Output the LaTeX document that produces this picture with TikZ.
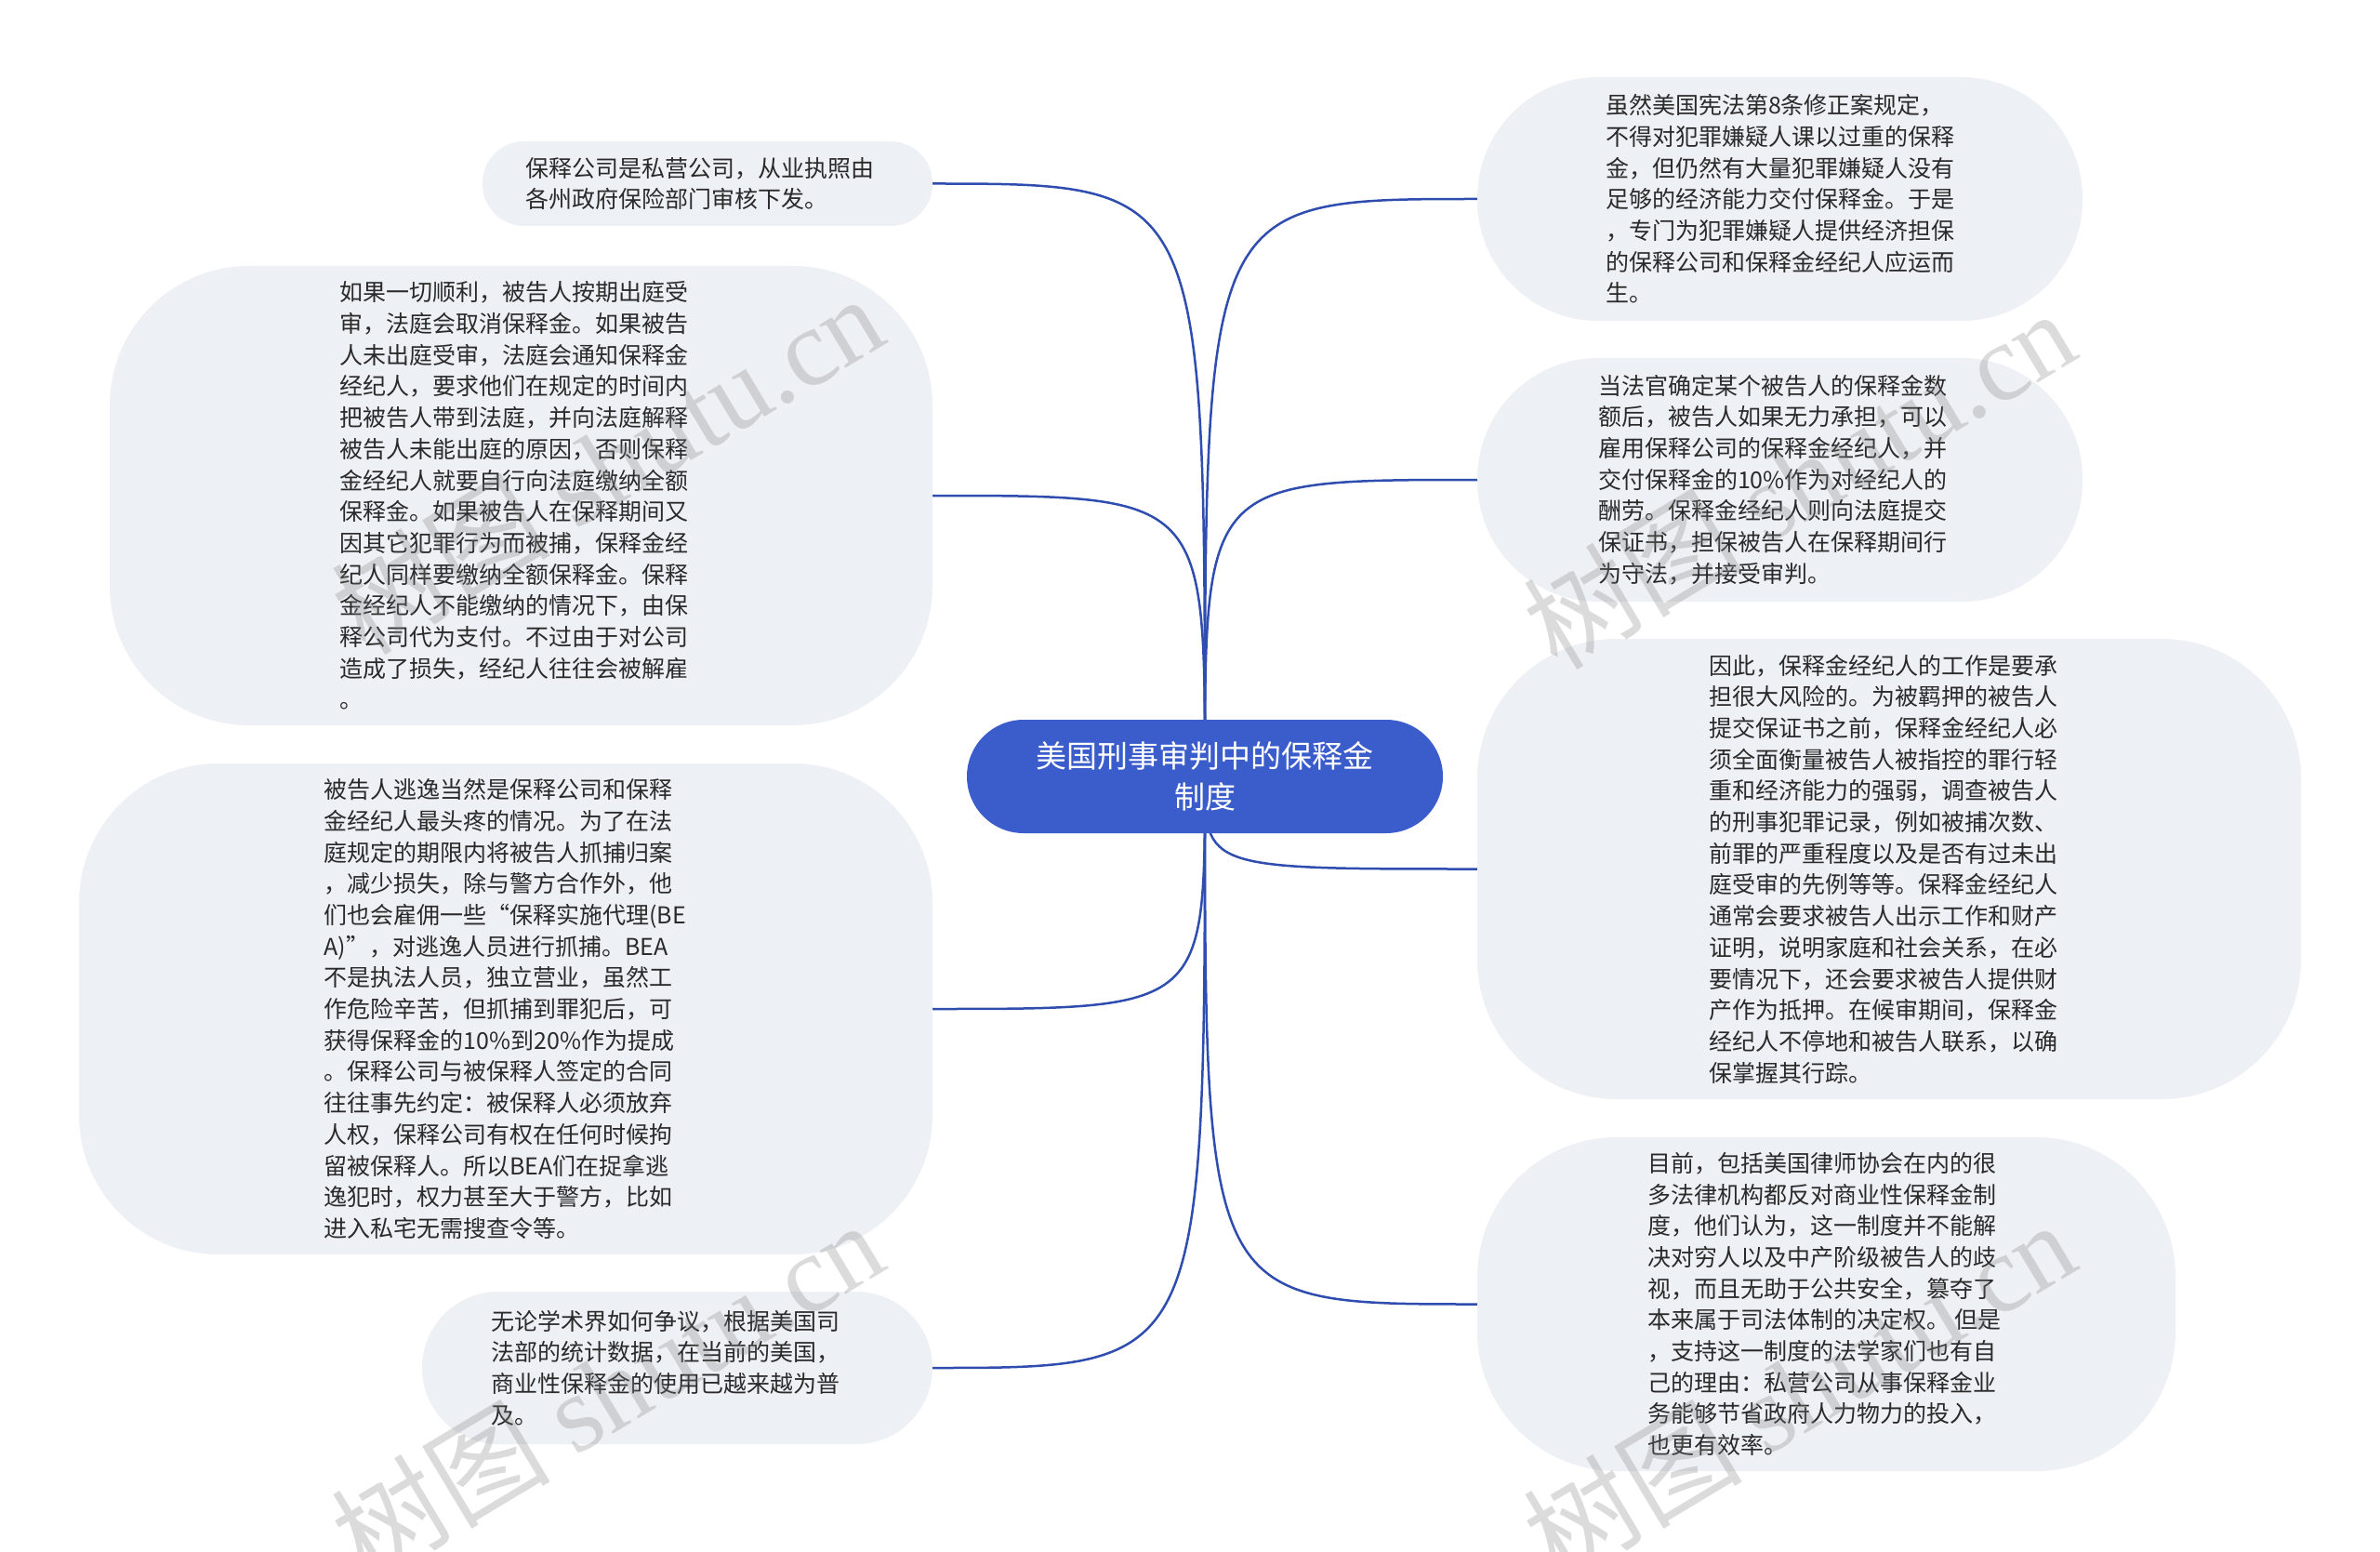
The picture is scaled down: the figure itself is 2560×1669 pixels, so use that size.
\documentclass[tikz,border=0pt]{standalone}
\usepackage{fontspec}
\setmainfont{Noto Sans CJK SC}
\newfontfamily\wmserif{Liberation Serif}
\usetikzlibrary{backgrounds}
\definecolor{rootblue}{HTML}{3B5DCB}
\definecolor{linkblue}{HTML}{2F4DAF}
\definecolor{leafgray}{HTML}{EDF0F4}
\definecolor{txtc}{HTML}{2A2A2A}
\newcommand{\rpad}[1]{\hspace*{#1}}
\tikzset{
  leaf/.style={fill=leafgray, draw=none, text=txtc, align=left, inner sep=0pt,
    font=\fontsize{25}{33.7}\selectfont},
  rootnode/.style={fill=rootblue, draw=none, text=white, align=center, inner sep=0pt,
    font=\fontsize{33}{44}\selectfont, minimum width=512pt, minimum height=122pt,
    rounded corners=61pt},
  link/.style={draw=linkblue, line width=2.5pt},
  wmark/.style={text=gray, text opacity=0.28, rotate=31, inner sep=0pt,
    font=\fontsize{118}{118}\selectfont}
}
\begin{document}
\begin{tikzpicture}[x=1pt,y=-1pt]
\useasboundingbox (0,0) rectangle (2560,1669);

\node[rootnode] (root) at (1296,835) {美国刑事审判中的保释金\\制度};

\node[leaf, minimum width=484pt, minimum height=91pt, rounded corners=45pt] (n1) at (761,197.5)
{保释公司是私营公司，从业执照由\rpad{17pt}\\各州政府保险部门审核下发。};

\node[leaf, minimum width=885pt, minimum height=494pt, rounded corners=150pt] (n2) at (560.5,533)
{如果一切顺利，被告人按期出庭受\rpad{16pt}\\审，法庭会取消保释金。如果被告\\人未出庭受审，法庭会通知保释金\\经纪人，要求他们在规定的时间内\\把被告人带到法庭，并向法庭解释\\被告人未能出庭的原因，否则保释\\金经纪人就要自行向法庭缴纳全额\\保释金。如果被告人在保释期间又\\因其它犯罪行为而被捕，保释金经\\纪人同样要缴纳全额保释金。保释\\金经纪人不能缴纳的情况下，由保\\释公司代为支付。不过由于对公司\\造成了损失，经纪人往往会被解雇\\。};

\node[leaf, minimum width=918pt, minimum height=528pt, rounded corners=150pt] (n3) at (544,1085)
{被告人逃逸当然是保释公司和保释\rpad{16pt}\\金经纪人最头疼的情况。为了在法\\庭规定的期限内将被告人抓捕归案\\，减少损失，除与警方合作外，他\\们也会雇佣一些“保释实施代理(BE\\A)”，对逃逸人员进行抓捕。BEA\\不是执法人员，独立营业，虽然工\\作危险辛苦，但抓捕到罪犯后，可\\获得保释金的10\%到20\%作为提成\\。保释公司与被保释人签定的合同\\往往事先约定：被保释人必须放弃\\人权，保释公司有权在任何时候拘\\留被保释人。所以BEA们在捉拿逃\\逸犯时，权力甚至大于警方，比如\\进入私宅无需搜查令等。};

\node[leaf, minimum width=549pt, minimum height=164pt, rounded corners=82pt] (n4) at (728.5,1471)
{无论学术界如何争议，根据美国司\rpad{26pt}\\法部的统计数据，在当前的美国，\\商业性保释金的使用已越来越为普\\及。};

\node[leaf, minimum width=651pt, minimum height=262pt, rounded corners=130pt] (n5) at (1914.5,214)
{虽然美国宪法第8条修正案规定，\\不得对犯罪嫌疑人课以过重的保释\rpad{16pt}\\金，但仍然有大量犯罪嫌疑人没有\\足够的经济能力交付保释金。于是\\，专门为犯罪嫌疑人提供经济担保\\的保释公司和保释金经纪人应运而\\生。};

\node[leaf, minimum width=651pt, minimum height=262pt, rounded corners=130pt] (n6) at (1914.5,516)
{当法官确定某个被告人的保释金数\rpad{16pt}\\额后，被告人如果无力承担，可以\\雇用保释公司的保释金经纪人，并\\交付保释金的10\%作为对经纪人的\\酬劳。保释金经纪人则向法庭提交\\保证书，担保被告人在保释期间行\\为守法，并接受审判。};

\node[leaf, minimum width=886pt, minimum height=495pt, rounded corners=150pt] (n7) at (2032,934.5)
{因此，保释金经纪人的工作是要承\rpad{13pt}\\担很大风险的。为被羁押的被告人\\提交保证书之前，保释金经纪人必\\须全面衡量被告人被指控的罪行轻\\重和经济能力的强弱，调查被告人\\的刑事犯罪记录，例如被捕次数、\\前罪的严重程度以及是否有过未出\\庭受审的先例等等。保释金经纪人\\通常会要求被告人出示工作和财产\\证明，说明家庭和社会关系，在必\\要情况下，还会要求被告人提供财\\产作为抵押。在候审期间，保释金\\经纪人不停地和被告人联系，以确\\保掌握其行踪。};

\node[leaf, minimum width=751pt, minimum height=359pt, rounded corners=150pt] (n8) at (1964.5,1402.5)
{目前，包括美国律师协会在内的很\rpad{10pt}\\多法律机构都反对商业性保释金制\\度，他们认为，这一制度并不能解\\决对穷人以及中产阶级被告人的歧\\视，而且无助于公共安全，篡夺了\\本来属于司法体制的决定权。 但是\\，支持这一制度的法学家们也有自\\己的理由：私营公司从事保释金业\\务能够节省政府人力物力的投入，\\也更有效率。};

\begin{scope}[on background layer]
\fill[white] (0,0) rectangle (2560,1669);
\draw[link] (root.center) .. controls (root.center |- n1.east) .. (n1.east);
\draw[link] (root.center) .. controls (root.center |- n2.east) .. (n2.east);
\draw[link] (root.center) .. controls (root.center |- n3.east) .. (n3.east);
\draw[link] (root.center) .. controls (root.center |- n4.east) .. (n4.east);
\draw[link] (root.center) .. controls (root.center |- n5.west) .. (n5.west);
\draw[link] (root.center) .. controls (root.center |- n6.west) .. (n6.west);
\draw[link] (root.center) .. controls (root.center |- n7.west) .. (n7.west);
\draw[link] (root.center) .. controls (root.center |- n8.west) .. (n8.west);
\end{scope}

\node[wmark] (w1) at (653,498) {树图 {\wmserif shutu.cn}};
\node[wmark] (w2) at (1935,514) {树图 {\wmserif shutu.cn}};
\node[wmark] (w3) at (653,1494) {树图 {\wmserif shutu.cn}};
\node[wmark] (w4) at (1935,1494) {树图 {\wmserif shutu.cn}};
\end{tikzpicture}
\end{document}
